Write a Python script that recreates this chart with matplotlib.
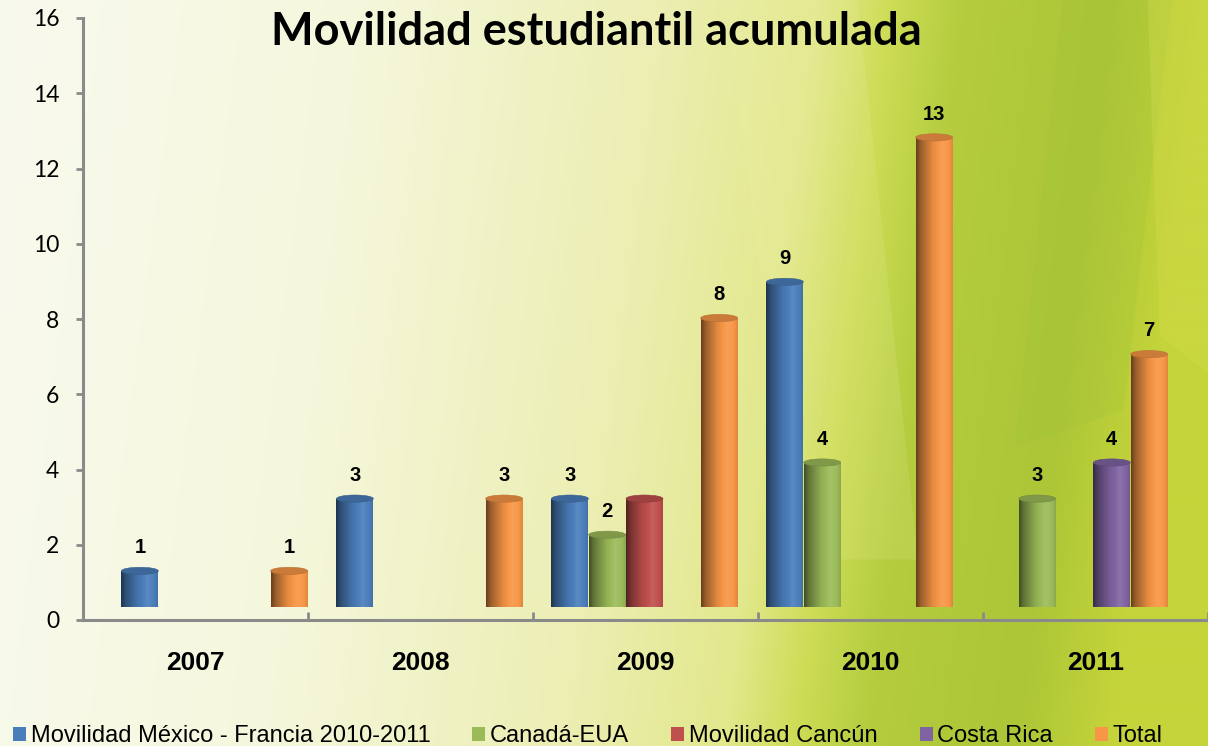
import matplotlib.pyplot as plt
import numpy as np
from matplotlib.colors import to_rgb
from matplotlib.patches import Ellipse, Patch, Polygon

# ---- data ----
years = ["2007", "2008", "2009", "2010", "2011"]
series_names = [
    "Movilidad México - Francia 2010-2011",
    "Canadá-EUA",
    "Movilidad Cancún",
    "Costa Rica",
    "Total",
]
mexico_francia = [1, 3, 3, 9, 0]
canada_eua = [0, 0, 2, 4, 3]
movilidad_cancun = [0, 0, 3, 0, 0]
costa_rica = [0, 0, 0, 0, 4]
total = [1, 3, 8, 13, 7]
series_values = [mexico_francia, canada_eua, movilidad_cancun, costa_rica, total]

series_colors = ["#4A7EBB", "#9BBB59", "#C0504D", "#8064A2", "#F79646"]
# the Cancún bar carries no data label in the original chart
show_label = [True, True, False, True, True]

W, H = 1208, 746
GREY = "#8a8a8a"


def shade_strip(color, n=64):
    """horizontal cylinder shading: dark left edge, highlight right of centre"""
    base = np.array(to_rgb(color))
    t = np.linspace(0, 1, n)
    f = np.interp(t, [0, 0.12, 0.45, 0.72, 0.9, 1.0], [0.42, 0.62, 0.92, 1.06, 1.0, 0.9])
    rgb = np.empty((n, 3))
    for i, k in enumerate(f):
        if k <= 1:
            rgb[i] = base * k
        else:
            rgb[i] = base + (1 - base) * (k - 1) * 1.6
    return np.clip(rgb, 0, 1)[None, :, :]


fig = plt.figure(figsize=(W / 100, H / 100), dpi=100)

# ---- background: pale cream on the left, green facets on the right ----
bg = fig.add_axes([0, 0, 1, 1])
bg.set_axis_off()
xs = np.linspace(0, 1, W // 4)
ys = np.linspace(0, 1, H // 4)  # 0 = top
X, Y = np.meshgrid(xs, ys)
U = X + 0.08 * Y
stops = [0.0, 0.30, 0.55, 0.68, 0.74, 0.80, 0.92, 1.0, 1.2]
cols = np.array([
    (249, 250, 238), (245, 247, 220), (236, 238, 178), (226, 232, 140),
    (205, 220, 85), (180, 204, 62), (172, 198, 55), (196, 212, 58), (196, 212, 58),
]) / 255.0
img = np.stack([np.interp(U, stops, cols[:, c]) for c in range(3)], axis=-1)
bg.imshow(img, extent=(0, 1, 0, 1), aspect="auto", interpolation="bilinear", zorder=0)
bg.add_patch(Polygon([(0.60, 1.0), (0.71, 1.0), (0.76, 0.25), (0.66, 0.25)],
                     closed=True, facecolor="#f2f2b0", alpha=0.15, edgecolor="none", zorder=1))
bg.add_patch(Polygon([(0.88, 1.0), (0.97, 1.0), (0.93, 0.45), (0.84, 0.40)],
                     closed=True, facecolor="#9cbf3a", alpha=0.2, edgecolor="none", zorder=1))
bg.add_patch(Polygon([(0.95, 1.0), (1.0, 1.0), (1.0, 0.5), (0.96, 0.55)],
                     closed=True, facecolor="#d8de50", alpha=0.3, edgecolor="none", zorder=1))
bg.set_xlim(0, 1)
bg.set_ylim(0, 1)

# ---- front axes: ticks, spines, category labels ----
ax = fig.add_axes([83 / W, (H - 620) / H, (W - 83) / W, 602 / H])
ax.set_facecolor("none")
ax.set_xlim(0, 5)
ax.set_ylim(0, 16)
ax.set_yticks(range(0, 17, 2))
ax.set_xticks(range(6))
ax.set_xticklabels([])
ax.set_xticks(np.arange(5) + 0.5, minor=True)
ax.set_xticklabels(years, minor=True, fontsize=19, fontweight="bold", family="Liberation Sans")
ax.tick_params(axis="x", which="major", direction="in", length=6, width=2, color=GREY)
ax.tick_params(axis="x", which="minor", length=0, pad=22)
ax.tick_params(axis="y", direction="out", length=5, width=2, color=GREY, pad=12, labelsize=16.5)
for lbl in ax.get_yticklabels():
    lbl.set_family("Lato")
for side in ("top", "right"):
    ax.spines[side].set_visible(False)
for side in ("left", "bottom"):
    ax.spines[side].set_color(GREY)
    ax.spines[side].set_linewidth(2.2)

# ---- back plane: the cylinders sit a bit deeper than the axis ----
bx = fig.add_axes([107 / W, (H - 607) / H, 1075 / W, 578 / H])
bx.set_axis_off()
bx.set_facecolor("none")
bx.set_xlim(-0.5, 4.5)
bx.set_ylim(0, 16)

slot = 0.1735
bar_w = 0.172
cap_h = 0.2
groups = np.arange(len(years))
for j, (vals, color) in enumerate(zip(series_values, series_colors)):
    xpos = groups + (j - 2) * slot
    vals = np.array(vals, dtype=float)
    keep = vals > 0
    bars = bx.bar(xpos[keep], vals[keep], width=bar_w, color=color, zorder=2)
    strip = shade_strip(color)
    cap_col = np.array(to_rgb(color)) * 0.82
    for rect, xc, v in zip(bars, xpos[keep], vals[keep]):
        x0, x1 = xc - bar_w / 2, xc + bar_w / 2
        body = bx.imshow(strip, extent=(x0, x1, 0, v), aspect="auto",
                         interpolation="bilinear", zorder=2.1)
        body.set_clip_path(rect)
        foot = Ellipse((xc, 0), bar_w, cap_h, facecolor=color, edgecolor="none", zorder=1.9)
        bx.add_patch(foot)
        foot_img = bx.imshow(strip, extent=(x0, x1, -cap_h / 2, cap_h / 2), aspect="auto",
                             interpolation="bilinear", zorder=1.95)
        foot_img.set_clip_path(foot)
        bx.add_patch(Ellipse((xc, v), bar_w, cap_h, facecolor=cap_col,
                             edgecolor=np.array(to_rgb(color)) * 0.75, linewidth=0.4, zorder=3))
        if show_label[j]:
            bx.text(xc, v + 0.38, f"{int(v)}", ha="center", va="bottom", fontsize=14.5,
                    fontweight="bold", family="Liberation Sans", zorder=4)

# ---- title ----
fig.text(596 / W, 1 - 32 / H, "Movilidad estudiantil acumulada", ha="center", va="center",
         fontsize=32.5, fontweight="bold", family="Lato")

# ---- legend along the bottom edge ----
handles = [Patch(facecolor=c, edgecolor="none") for c in series_colors]
fig.legend(handles, series_names, loc="center left", bbox_to_anchor=(13 / W, 1 - 736 / H),
           ncol=5, frameon=False, prop={"family": "Liberation Sans", "size": 17},
           handlelength=0.55, handleheight=0.55, handletextpad=0.2, columnspacing=1.78,
           borderpad=0, borderaxespad=0)

fig.savefig("out.png", dpi=100)
